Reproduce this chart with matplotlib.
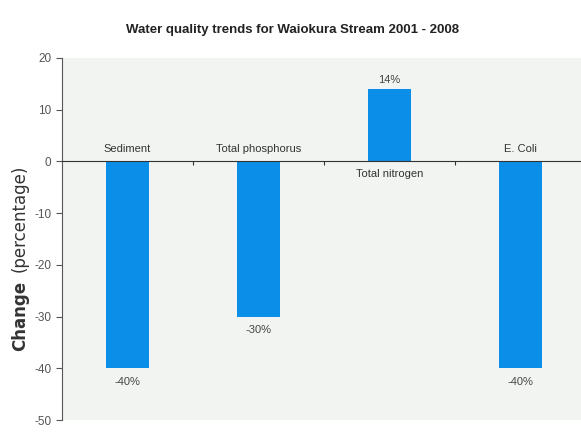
import numpy as np
import matplotlib.pyplot as plt

categories = ['Sediment', 'Total phosphorus', 'Total nitrogen', 'E. Coli']
changes = [-40, -30, 14, -40]
value_labels = ['-40%', '-30%', '14%', '-40%']
yticks = [20, 10, 0, -10, -20, -30, -40, -50]

plt.rcParams['font.family'] = ['Liberation Sans', 'DejaVu Sans']

fig = plt.figure(figsize=(5.81, 4.36), dpi=100)
ax = fig.add_axes([62/581, 1-420/436, (581-62)/581, (420-58)/436])
ax.set_facecolor('#f1f4f0')

x = np.arange(len(categories))
ax.bar(x, changes, width=0.33, color='#0a8ee8', zorder=2)

ax.set_xlim(-0.5, 3.46)
ax.set_ylim(-50, 20)

for s in ['top', 'right']:
    ax.spines[s].set_visible(False)
ax.spines['left'].set_color('#555555')
ax.spines['bottom'].set_position(('data', 0))
ax.spines['bottom'].set_color('#333333')
ax.spines['bottom'].set_zorder(3)
ax.set_xticks([0.5, 1.5, 2.5])
ax.set_xticklabels([])
ax.tick_params(axis='x', length=3, color='#333333')

ax.set_yticks(yticks)
ax.set_yticklabels([str(t) for t in yticks])
ax.tick_params(axis='y', length=4, color='#555555', labelcolor='#555555', labelsize=8.5)

for i, (v, lab, cat) in enumerate(zip(changes, value_labels, categories)):
    if v < 0:
        ax.text(i, 1.5, cat, ha='center', va='bottom', fontsize=8, color='#333333')
        ax.text(i, v - 1.6, lab, ha='center', va='top', fontsize=8, color='#444444')
    else:
        ax.text(i, -1.5, cat, ha='center', va='top', fontsize=8, color='#333333')
        ax.text(i, v + 0.7, lab, ha='center', va='bottom', fontsize=8, color='#444444')

fig.text(20/581, 1-316/436, 'Change', rotation=90, ha='center', va='center',
         fontsize=12, fontweight='bold', color='#333333', family='DejaVu Sans')
fig.text(20/581, 1-218/436, '(percentage)', rotation=90, ha='center', va='center',
         fontsize=12, color='#333333', family='DejaVu Sans')

fig.text(292/581, 1-30/436, 'Water quality trends for Waiokura Stream 2001 - 2008',
         ha='center', va='center', fontsize=9.5, fontweight='bold', color='#222222')

fig.savefig('out.png', dpi=100)
